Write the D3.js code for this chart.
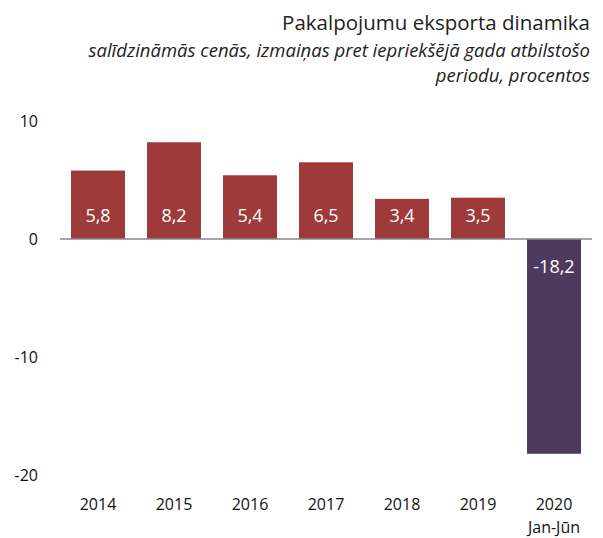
<!DOCTYPE html>
<html>
<head>
<meta charset="utf-8">
<script src="https://cdn.jsdelivr.net/npm/d3@7/dist/d3.min.js"></script>
<style>
  body { margin: 0; background: #fff; }
  svg { display: block; font-family: "Open Sans", Lato, sans-serif; }
</style>
</head>
<body>
<svg id="chart" width="603" height="538"></svg>
<script>
const categories = ["2014", "2015", "2016", "2017", "2018", "2019", "2020"];
const categorySubLabels = ["", "", "", "", "", "", "Jan-Jūn"];
const values = [5.8, 8.2, 5.4, 6.5, 3.4, 3.5, -18.2];
const valueLabels = ["5,8", "8,2", "5,4", "6,5", "3,4", "3,5", "-18,2"];
const yTicks = [10, 0, -10, -20];
const titleText = "Pakalpojumu eksporta dinamika";
const subtitleLines = ["salīdzināmās cenās, izmaiņas pret iepriekšējā gada atbilstošo", "periodu, procentos"];

const svg = d3.select("#chart");
const x = d3.scaleBand().domain(categories).range([60, 592]).paddingInner(0.29).paddingOuter(0.145);
const y = d3.scaleLinear().domain([-20, 10]).range([475, 121]);

const data = categories.map((c, i) => ({ c, v: values[i], label: valueLabels[i], sub: categorySubLabels[i] }));

// title
svg.append("text").attr("x", 590).attr("y", 30).attr("text-anchor", "end")
  .attr("font-size", 20.5).attr("fill", "#222").text(titleText);
svg.selectAll("text.sub").data(subtitleLines).join("text").attr("class", "sub")
  .attr("x", 590).attr("y", (d, i) => 57 + i * 25).attr("text-anchor", "end")
  .attr("font-size", 18.5).attr("font-style", "italic").attr("fill", "#222").text(d => d);

// y axis labels
const yAxis = d3.axisLeft(y).tickValues(yTicks).tickSize(0).tickPadding(0).tickFormat(d => String(d));
const ya = svg.append("g").attr("transform", "translate(38,0)").call(yAxis);
ya.select(".domain").remove();
ya.selectAll("text").attr("font-size", 16).attr("fill", "#111").attr("font-family", "\"Open Sans\", Lato, sans-serif");

// bars
svg.selectAll("rect.bar").data(data).join("rect").attr("class", "bar")
  .attr("x", d => x(d.c)).attr("width", x.bandwidth())
  .attr("y", d => y(Math.max(0, d.v))).attr("height", d => Math.abs(y(d.v) - y(0)))
  .attr("fill", d => d.v >= 0 ? "#9e3a3a" : "#4e3a5f");

// zero line
svg.append("line").attr("x1", 60).attr("x2", 592).attr("y1", y(0)).attr("y2", y(0))
  .attr("stroke", "#888").attr("stroke-width", 1.5);

// value labels
svg.selectAll("text.val").data(data).join("text").attr("class", "val")
  .attr("x", d => x(d.c) + x.bandwidth() / 2)
  .attr("y", d => d.v >= 0 ? y(0) - 17 : y(0) + 34)
  .attr("text-anchor", "middle").attr("font-size", 18).attr("fill", "#fff").text(d => d.label);

// x axis labels
const xAxis = d3.axisBottom(x).tickSize(0).tickPadding(0);
const xa = svg.append("g").attr("transform", "translate(0,499)").call(xAxis);
xa.select(".domain").remove();
xa.selectAll("text").attr("font-size", 16).attr("fill", "#111").attr("font-family", "\"Open Sans\", Lato, sans-serif");
svg.selectAll("text.xsub").data(data.filter(d => d.sub)).join("text").attr("class", "xsub")
  .attr("x", d => x(d.c) + x.bandwidth() / 2).attr("y", 533).attr("text-anchor", "middle")
  .attr("font-size", 16).attr("fill", "#111").text(d => d.sub);
</script>
</body>
</html>
